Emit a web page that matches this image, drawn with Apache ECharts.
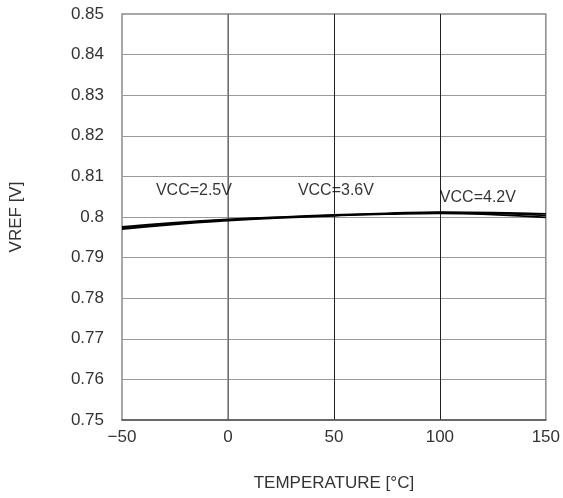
<!DOCTYPE html>
<html>
<head>
<meta charset="utf-8">
<script src="https://cdn.jsdelivr.net/npm/echarts@6/dist/echarts.min.js"></script>
<style>
  html, body { margin: 0; padding: 0; background: #fff; }
  #chart { width: 563px; height: 498px; }
</style>
</head>
<body>
<div id="chart"></div>
<script>
// temperature points (°C)
const temps = [-50, -25, 0, 25, 50, 75, 100, 125, 150];

// VREF [V] for each supply voltage
const vref25 = [0.7976, 0.7986, 0.7994, 0.8000, 0.8005, 0.8009, 0.8012, 0.8011, 0.8008];
const vref36 = [0.7973, 0.7984, 0.7993, 0.7999, 0.8004, 0.8008, 0.8011, 0.8009, 0.8004];
const vref42 = [0.7970, 0.7982, 0.7991, 0.7998, 0.8003, 0.8007, 0.8009, 0.8006, 0.7999];

// text labels placed in data coordinates
const labelNames = ['VCC=2.5V', 'VCC=3.6V', 'VCC=4.2V'];
const labelX = [-34, 33, 100];
const labelY = [0.8066, 0.8064, 0.8047];

const FONT = 'Liberation Sans, Arial, sans-serif';

function pairs(ys) {
  return temps.map((t, i) => [t, ys[i]]);
}

function lineSeries(name, ys) {
  return {
    name: name,
    type: 'line',
    data: pairs(ys),
    smooth: true,
    symbol: 'none',
    lineStyle: { color: '#000', width: 1.7 },
    z: 5
  };
}

const chart = echarts.init(document.getElementById('chart'));

const option = {
  animation: false,
  backgroundColor: '#fff',
  grid: {
    left: 119,
    right: 15,
    top: 14,
    bottom: 78,
    show: true,
    borderColor: '#8a8a8a',
    borderWidth: 1.5,
    backgroundColor: 'transparent'
  },
  xAxis: {
    type: 'value',
    min: -50,
    max: 150,
    interval: 50,
    name: 'TEMPERATURE [°C]',
    nameLocation: 'middle',
    nameGap: 55,
    nameTextStyle: { fontFamily: FONT, fontSize: 17, color: '#333' },
    axisLine: { lineStyle: { color: '#555', width: 1.5 } },
    axisTick: { show: false },
    axisLabel: {
      fontFamily: FONT, fontSize: 17, color: '#333', margin: 9,
      formatter: v => (v < 0 ? '\u2212' + Math.abs(v) : String(v))
    },
    splitLine: {
      show: true,
      showMinLine: false,
      showMaxLine: false,
      lineStyle: { color: '#222', width: 1 }
    }
  },
  yAxis: {
    type: 'value',
    min: 0.75,
    max: 0.85,
    interval: 0.01,
    name: 'VREF [V]',
    nameLocation: 'middle',
    nameGap: 97,
    nameTextStyle: { fontFamily: FONT, fontSize: 17, color: '#333' },
    axisLine: { show: true, lineStyle: { color: '#8a8a8a', width: 1.5 } },
    axisTick: { show: false },
    axisLabel: {
      fontFamily: FONT, fontSize: 17, color: '#333', margin: 18,
      formatter: v => String(parseFloat(v.toFixed(2)))
    },
    splitLine: {
      show: true,
      showMinLine: false,
      showMaxLine: false,
      lineStyle: { color: '#999', width: 1 }
    }
  },
  series: [
    lineSeries('VCC=2.5V', vref25),
    lineSeries('VCC=3.6V', vref36),
    lineSeries('VCC=4.2V', vref42),
    {
      type: 'scatter',
      symbolSize: 0,
      silent: true,
      data: labelNames.map((n, i) => ({ name: n, value: [labelX[i], labelY[i]] })),
      label: {
        show: true,
        position: [0, 0],
        align: 'left',
        verticalAlign: 'middle',
        formatter: p => p.name,
        fontFamily: FONT,
        fontSize: 16,
        color: '#000'
      },
      z: 6
    }
  ]
};

chart.setOption(option);
</script>
</body>
</html>
